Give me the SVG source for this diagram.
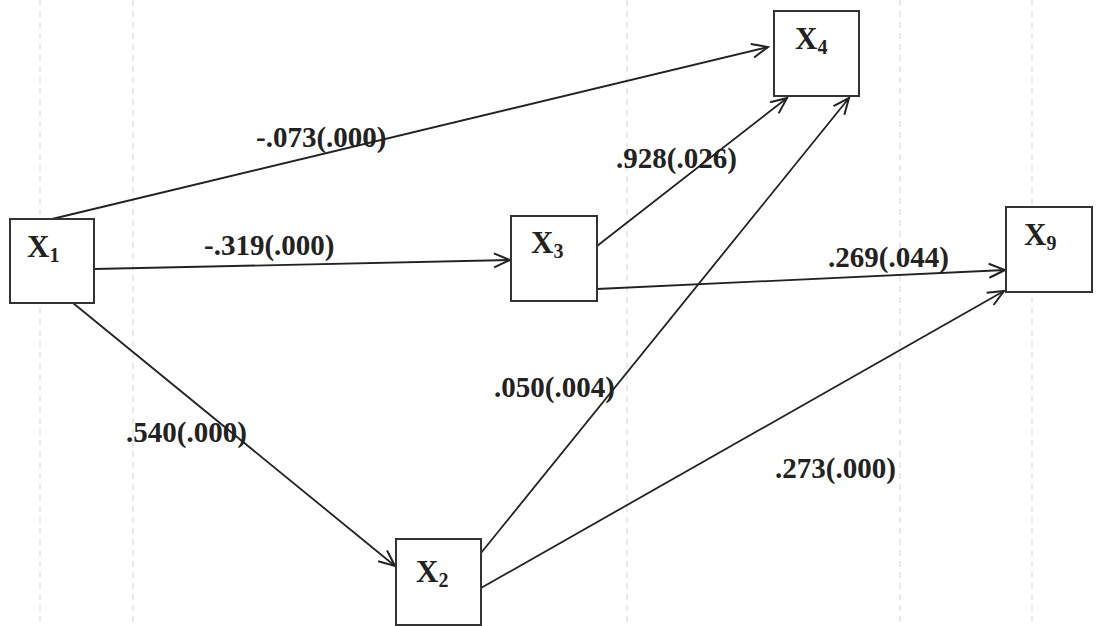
<svg xmlns="http://www.w3.org/2000/svg" width="1098" height="626" viewBox="0 0 1098 626">
<defs>
<style>
.box{fill:#fff;stroke:#333;stroke-width:2}
.lbl{font-family:"Liberation Serif","Times New Roman",serif;font-weight:bold;font-size:31px;fill:#222}
.sub{font-size:20px}
.edge{stroke:#222;stroke-width:1.8;fill:none;marker-end:url(#arr)}
.coef{font-family:"Liberation Serif","Times New Roman",serif;font-weight:bold;font-size:29px;fill:#222}
.grid{stroke:#dcdcdc;stroke-width:1.2;stroke-dasharray:6 5}
</style>
<marker id="arr" viewBox="0 0 20 20" refX="18" refY="10" markerWidth="20" markerHeight="20" markerUnits="userSpaceOnUse" orient="auto">
<polyline points="2,3 18,10 2,17" fill="none" stroke="#222" stroke-width="2"/>
</marker>
</defs>
<rect width="1098" height="626" fill="#fff"/>
<g id="grid">
<line class="grid" x1="40" y1="0" x2="40" y2="626"/>
<line class="grid" x1="133" y1="0" x2="133" y2="626"/>
<line class="grid" x1="627" y1="0" x2="627" y2="626"/>
<line class="grid" x1="900" y1="0" x2="900" y2="626"/>
<line class="grid" x1="1032" y1="0" x2="1032" y2="626"/>
</g>
<g id="connectors">
<line class="edge" x1="52" y1="219" x2="768" y2="47"/>
<line class="edge" x1="94" y1="269" x2="510" y2="260"/>
<line class="edge" x1="73" y1="303" x2="395" y2="566"/>
<line class="edge" x1="597" y1="246" x2="787" y2="98"/>
<line class="edge" x1="597" y1="289" x2="1005" y2="270"/>
<line class="edge" x1="481" y1="553" x2="849" y2="98"/>
<line class="edge" x1="481" y1="588" x2="1004" y2="291"/>
</g>
<g id="labels">
<text class="coef" x="256" y="147">-.073(.000)</text>
<text class="coef" x="616" y="168">.928(.026)</text>
<text class="coef" x="204" y="255">-.319(.000)</text>
<text class="coef" x="828" y="267">.269(.044)</text>
<text class="coef" x="494" y="397">.050(.004)</text>
<text class="coef" x="126" y="442">.540(.000)</text>
<text class="coef" x="775" y="478">.273(.000)</text>
</g>
<g id="X1">
<rect class="box" x="10" y="219" width="84" height="84"/>
<text class="lbl" x="27" y="257">X<tspan class="sub" dy="5">1</tspan></text>
</g>
<g id="X4">
<rect class="box" x="774" y="11" width="85" height="85"/>
<text class="lbl" x="795" y="49">X<tspan class="sub" dy="5">4</tspan></text>
</g>
<g id="X3">
<rect class="box" x="511" y="216" width="86" height="85"/>
<text class="lbl" x="531" y="253">X<tspan class="sub" dy="5">3</tspan></text>
</g>
<g id="X9">
<rect class="box" x="1006" y="207" width="86" height="85"/>
<text class="lbl" x="1024" y="245">X<tspan class="sub" dy="5">9</tspan></text>
</g>
<g id="X2">
<rect class="box" x="396" y="539" width="85" height="86"/>
<text class="lbl" x="416" y="582">X<tspan class="sub" dy="5">2</tspan></text>
</g>
</svg>
